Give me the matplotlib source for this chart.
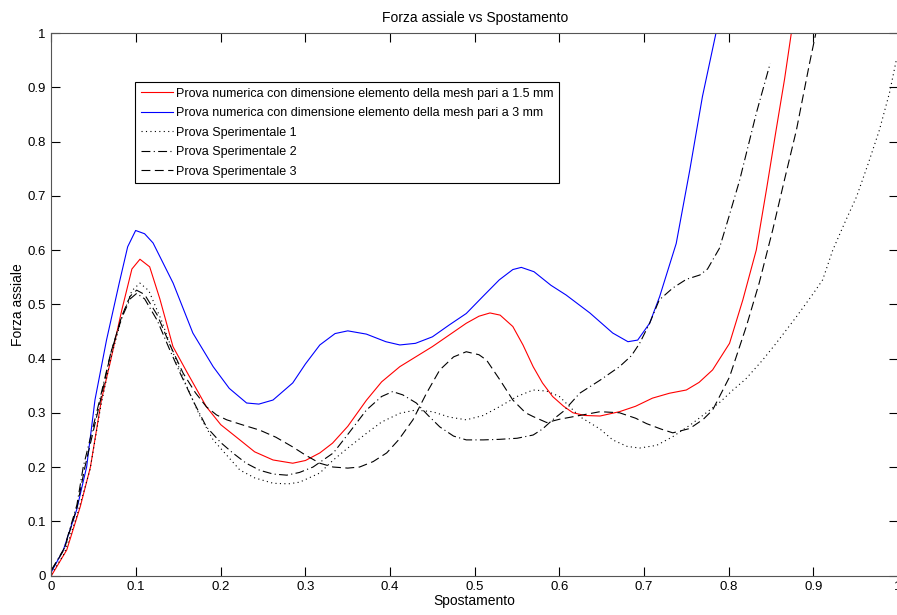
import matplotlib
matplotlib.use("Agg")
import matplotlib.pyplot as plt
from matplotlib.ticker import FuncFormatter

plt.rcParams['font.family'] = ['Liberation Sans', 'DejaVu Sans']
plt.rcParams['font.size'] = 10

# Numerical test, mesh element size 1.5 mm
x_num15 = [0.000, 0.018, 0.034, 0.046, 0.059, 0.070, 0.083, 0.095, 0.1045, 0.116, 0.128,
           0.1435, 0.160, 0.183, 0.200, 0.2225, 0.240, 0.2617, 0.285, 0.300, 0.317, 0.332,
           0.350, 0.372, 0.390, 0.4115, 0.450, 0.490, 0.505, 0.518, 0.530, 0.545, 0.557,
           0.569, 0.580, 0.592, 0.605, 0.616, 0.630, 0.648, 0.671, 0.690, 0.710, 0.730,
           0.750, 0.765, 0.781, 0.801, 0.8167, 0.8326, 0.845, 0.856, 0.866, 0.874, 0.880]
y_num15 = [0.000, 0.047, 0.127, 0.200, 0.324, 0.397, 0.489, 0.565, 0.583, 0.569, 0.510,
           0.422, 0.375, 0.311, 0.278, 0.250, 0.228, 0.213, 0.207, 0.212, 0.226, 0.244,
           0.275, 0.323, 0.357, 0.385, 0.422, 0.465, 0.478, 0.484, 0.480, 0.459, 0.425,
           0.385, 0.355, 0.330, 0.312, 0.300, 0.295, 0.294, 0.302, 0.312, 0.327, 0.336,
           0.342, 0.356, 0.379, 0.428, 0.508, 0.600, 0.715, 0.821, 0.915, 1.000, 1.060]

# Numerical test, mesh element size 3 mm
x_num3 = [0.000, 0.014, 0.0297, 0.0415, 0.0514, 0.065, 0.080, 0.090, 0.0994, 0.110, 0.120,
          0.1437, 0.167, 0.191, 0.210, 0.2305, 0.245, 0.2617, 0.285, 0.300, 0.317, 0.335,
          0.350, 0.372, 0.395, 0.4115, 0.430, 0.450, 0.470, 0.490, 0.510, 0.529, 0.545,
          0.555, 0.570, 0.590, 0.608, 0.636, 0.663, 0.681, 0.6925, 0.7066, 0.7184, 0.738,
          0.754, 0.769, 0.785, 0.790]
y_num3 = [0.007, 0.047, 0.121, 0.200, 0.324, 0.434, 0.539, 0.606, 0.636, 0.630, 0.613,
          0.539, 0.447, 0.385, 0.345, 0.318, 0.316, 0.3235, 0.355, 0.390, 0.425, 0.446,
          0.451, 0.445, 0.431, 0.425, 0.428, 0.440, 0.462, 0.483, 0.515, 0.545, 0.564,
          0.568, 0.560, 0.535, 0.517, 0.484, 0.447, 0.431, 0.434, 0.465, 0.514, 0.612,
          0.747, 0.883, 1.000, 1.050]

# Experimental test 1
x_exp1 = [0.000, 0.015, 0.030, 0.0455, 0.058, 0.070, 0.083, 0.095, 0.1045, 0.115, 0.130,
          0.145, 0.160, 0.175, 0.191, 0.2225, 0.240, 0.262, 0.280, 0.293, 0.317, 0.333,
          0.350, 0.372, 0.390, 0.4115, 0.430, 0.450, 0.470, 0.490, 0.510, 0.529, 0.550,
          0.569, 0.585, 0.600, 0.624, 0.648, 0.663, 0.680, 0.6948, 0.715, 0.734, 0.755,
          0.7735, 0.790, 0.805, 0.820, 0.840, 0.856, 0.880, 0.900, 0.911, 0.923, 0.937,
          0.951, 0.965, 0.978, 0.990, 0.998]
y_exp1 = [0.003, 0.040, 0.110, 0.195, 0.310, 0.400, 0.475, 0.525, 0.539, 0.525, 0.470,
          0.405, 0.348, 0.295, 0.250, 0.1945, 0.180, 0.170, 0.169, 0.172, 0.189, 0.213,
          0.235, 0.262, 0.283, 0.299, 0.305, 0.302, 0.292, 0.287, 0.295, 0.311, 0.330,
          0.342, 0.340, 0.330, 0.293, 0.270, 0.250, 0.238, 0.235, 0.240, 0.256, 0.278,
          0.300, 0.320, 0.342, 0.362, 0.397, 0.428, 0.477, 0.520, 0.545, 0.600, 0.650,
          0.698, 0.760, 0.821, 0.890, 0.950]

# Experimental test 2
x_exp2 = [0.000, 0.015, 0.030, 0.0375, 0.057, 0.070, 0.083, 0.093, 0.1006, 0.110, 0.125,
          0.140, 0.152, 0.168, 0.183, 0.200, 0.2145, 0.230, 0.246, 0.262, 0.278, 0.293,
          0.309, 0.333, 0.350, 0.372, 0.390, 0.403, 0.415, 0.431, 0.445, 0.4587, 0.475,
          0.490, 0.510, 0.529, 0.550, 0.569, 0.580, 0.592, 0.605, 0.624, 0.648, 0.671,
          0.685, 0.6948, 0.7066, 0.718, 0.734, 0.750, 0.766, 0.775, 0.789, 0.800, 0.813,
          0.8326, 0.849]
y_exp2 = [0.010, 0.050, 0.130, 0.200, 0.324, 0.410, 0.475, 0.510, 0.520, 0.510, 0.470,
          0.415, 0.373, 0.320, 0.274, 0.245, 0.2255, 0.207, 0.194, 0.187, 0.185, 0.190,
          0.200, 0.226, 0.260, 0.305, 0.330, 0.339, 0.333, 0.318, 0.295, 0.274, 0.257,
          0.250, 0.250, 0.251, 0.253, 0.259, 0.270, 0.287, 0.303, 0.336, 0.360, 0.385,
          0.405, 0.428, 0.465, 0.508, 0.530, 0.546, 0.554, 0.565, 0.603, 0.660, 0.729,
          0.852, 0.944]

# Experimental test 3
x_exp3 = [0.000, 0.015, 0.030, 0.0395, 0.058, 0.070, 0.083, 0.093, 0.1006, 0.110, 0.125,
          0.140, 0.1555, 0.170, 0.183, 0.195, 0.207, 0.225, 0.246, 0.265, 0.285, 0.300,
          0.317, 0.3326, 0.350, 0.364, 0.380, 0.396, 0.410, 0.427, 0.443, 0.4587, 0.475,
          0.490, 0.505, 0.514, 0.530, 0.545, 0.560, 0.569, 0.585, 0.600, 0.624, 0.648,
          0.671, 0.690, 0.703, 0.720, 0.734, 0.754, 0.770, 0.781, 0.801, 0.821, 0.836,
          0.852, 0.866, 0.880, 0.8955, 0.903, 0.908]
y_exp3 = [0.010, 0.048, 0.125, 0.200, 0.324, 0.410, 0.478, 0.515, 0.526, 0.518, 0.480,
          0.425, 0.373, 0.337, 0.311, 0.296, 0.287, 0.278, 0.268, 0.255, 0.237, 0.222,
          0.207, 0.200, 0.198, 0.200, 0.210, 0.226, 0.250, 0.287, 0.336, 0.379, 0.403,
          0.4125, 0.407, 0.397, 0.360, 0.3235, 0.300, 0.293, 0.282, 0.288, 0.295, 0.302,
          0.300, 0.290, 0.280, 0.270, 0.263, 0.271, 0.288, 0.305, 0.366, 0.460, 0.539,
          0.637, 0.730, 0.821, 0.944, 1.000, 1.040]

labels = ["Prova numerica con dimensione elemento della mesh pari a 1.5 mm",
          "Prova numerica con dimensione elemento della mesh pari a 3 mm",
          "Prova Sperimentale 1",
          "Prova Sperimentale 2",
          "Prova Sperimentale 3"]

x_ticks = [0.0, 0.1, 0.2, 0.3, 0.4, 0.5, 0.6, 0.7, 0.8, 0.9, 1.0]
y_ticks = [0.0, 0.1, 0.2, 0.3, 0.4, 0.5, 0.6, 0.7, 0.8, 0.9, 1.0]

fig = plt.figure(figsize=(8.97, 6.15), dpi=100)
ax = fig.add_axes([0.0574, 0.0642, 0.9437, 0.8821])

lw = 0.8
ax.plot(x_num15, y_num15, color='#ff0000', lw=lw, label=labels[0])
ax.plot(x_num3, y_num3, color='#0000ff', lw=lw, label=labels[1])
ax.plot(x_exp1, y_exp1, color='black', lw=lw, linestyle=(0, (1, 3)), label=labels[2])
ax.plot(x_exp2, y_exp2, color='black', lw=lw, linestyle=(0, (8, 3, 1, 3)), label=labels[3])
ax.plot(x_exp3, y_exp3, color='black', lw=lw, linestyle=(0, (8, 4)), label=labels[4])

ax.set_xlim(0, 1)
ax.set_ylim(0, 1)
ax.set_xticks(x_ticks)
ax.set_yticks(y_ticks)
fmt = FuncFormatter(lambda v, p: f"{v:g}")
ax.xaxis.set_major_formatter(fmt)
ax.yaxis.set_major_formatter(fmt)
ax.tick_params(direction='in', top=True, right=True, length=6.5, width=0.8,
               colors='black', labelsize=9.5, pad=4)
for s in ax.spines.values():
    s.set_color('#555555')
    s.set_linewidth(0.8)

ax.set_title("Forza assiale vs Spostamento", fontsize=10, pad=8)
ax.set_xlabel("Spostamento", fontsize=10, labelpad=1)
ax.set_ylabel("Forza assiale", fontsize=10, labelpad=1.5)

leg = ax.legend(loc='upper left', bbox_to_anchor=(0.0986, 0.9097), borderaxespad=0,
                fancybox=False, frameon=True, edgecolor='black', framealpha=1,
                handlelength=2.6, handletextpad=0.2, labelspacing=0.6,
                borderpad=0.45, fontsize=9)
leg.get_frame().set_linewidth(0.8)

fig.savefig("out.png", dpi=100)
